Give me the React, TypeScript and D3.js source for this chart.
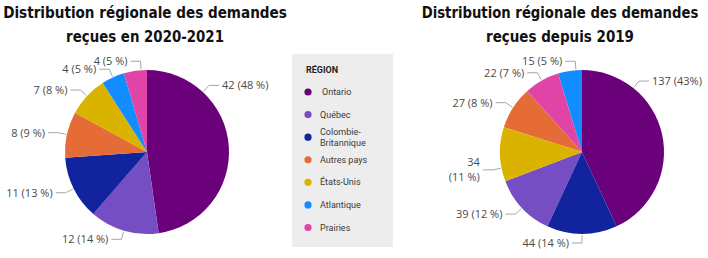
// App.tsx
import React, { useLayoutEffect, useRef, useState } from "react";
import * as d3 from "d3";

// regions in legend order
const regions = ["Ontario", "Québec", "Colombie-Britannique", "Autres pays", "États-Unis", "Atlantique", "Prairies"];
const legendLines = [["Ontario"], ["Québec"], ["Colombie-", "Britannique"], ["Autres pays"], ["États-Unis"], ["Atlantique"], ["Prairies"]];
const colors = ["#6B007B", "#744EC2", "#12239E", "#E66C37", "#D9B300", "#118DFF", "#E044A7"];

// 2020-2021
const counts2021 = [42, 12, 11, 8, 7, 4, 4];
const labels2021 = [["42 (48 %)"], ["12 (14 %)"], ["11 (13 %)"], ["8 (9 %)"], ["7 (8 %)"], ["4 (5 %)"], ["4 (5 %)"]];
// where along the slice the leader line starts (0 = start angle, 1 = end angle)
const labelAt2021 = [0.25, 0.5, 0.5, 0.5, 0.5, 0.5, 0.75];

// depuis 2019
const countsSince = [137, 39, 44, 27, 34, 15, 22];
const labelsSince = [["137 (43%)"], ["39 (12 %)"], ["44 (14 %)"], ["27 (8 %)"], ["34", "(11 %)"], ["15 (5 %)"], ["22 (7 %)"]];
const labelAtSince = [0.25, 0.5, 0.5, 0.5, 0.25, 0.75, 0.5];

const W = 708;
const H = 258;
const R = 82;
const labelFont = "'Open Sans', 'Noto Sans', sans-serif";
const titleFont = "'Liberation Sans Narrow', 'DejaVu Sans Condensed', Roboto, sans-serif";

type PieProps = {
  cx: number;
  cy: number;
  counts: number[];
  labels: string[][];
  labelAt: number[];
};

function Pie({ cx, cy, counts, labels, labelAt }: PieProps) {
  const pie = d3.pie<number>().value((i) => counts[i]);
  const arcs = pie(d3.range(counts.length));
  const arc = d3.arc<d3.PieArcDatum<number>>().innerRadius(0).outerRadius(R);

  return (
    <g transform={`translate(${cx},${cy})`}>
      {arcs.map((a) => (
        <path key={a.data} d={arc(a) || ""} fill={colors[a.data]} />
      ))}
      {arcs.map((a) => {
        const i = a.data;
        const ang = a.startAngle + (a.endAngle - a.startAngle) * labelAt[i];
        const sx = Math.sin(ang), sy = -Math.cos(ang);
        const p0 = [sx * (R + 1), sy * (R + 1)];
        const p1 = [sx * (R + 9), sy * (R + 9)];
        const right = sx > 0.01; // bottom-centre labels go left, like the original
        const p2 = [p1[0] + (right ? 10 : -10), p1[1]];
        const tx = p2[0] + (right ? 3 : -3);
        const lines = labels[i];
        return (
          <g key={"l" + i}>
            <polyline
              points={[p0, p1, p2].map((p) => p.join(",")).join(" ")}
              fill="none"
              stroke="#A6A6A6"
              strokeWidth={1}
            />
            <text
              x={tx}
              y={p1[1]}
              textAnchor={right ? "start" : "end"}
              fontFamily={labelFont}
              fontSize={11}
              fill="#4A4A4A"
            >
              {lines.map((s, k) => (
                <tspan key={k} x={tx} y={p1[1] + (k - (lines.length - 1) / 2) * 15} dy="0.36em">
                  {s}
                </tspan>
              ))}
            </text>
          </g>
        );
      })}
    </g>
  );
}

// condensed bold title: measure the real width, then squeeze it to the original's width
function TitleLine({ cx, y, text, width }: { cx: number; y: number; text: string; width: number }) {
  const ref = useRef<SVGTextElement>(null);
  const [k, setK] = useState(1);
  useLayoutEffect(() => {
    if (!ref.current) return;
    const w = ref.current.getComputedTextLength();
    if (w > 0) setK(width / w);
  }, [text, width]);
  return (
    <g transform={`translate(${cx},${y}) scale(${k},1)`}>
      <text
        ref={ref}
        textAnchor="middle"
        fontFamily={titleFont}
        fontWeight="bold"
        fontSize={16.5}
        fill="#111"
      >
        {text}
      </text>
    </g>
  );
}

function Title({ cx, lines, widths }: { cx: number; lines: string[]; widths: number[] }) {
  return (
    <g>
      {lines.map((s, k) => (
        <TitleLine key={k} cx={cx} y={18 + k * 24} text={s} width={widths[k]} />
      ))}
    </g>
  );
}

function Legend() {
  const y = d3.scalePoint<number>().domain(d3.range(regions.length)).range([92, 227.5]);
  return (
    <g>
      <rect x={292} y={54} width={101} height={193} fill="#EDEDED" />
      <text x={306} y={73} fontFamily="Roboto, sans-serif" fontWeight="bold" fontSize={9} fill="#252423">
        RÉGION
      </text>
      {regions.map((r, i) => {
        const lines = legendLines[i];
        const yy = y(i) as number;
        return (
          <g key={r}>
            <circle cx={308} cy={yy} r={3.6} fill={colors[i]} />
            <text x={320} y={yy} fontFamily="Roboto, sans-serif" fontSize={9} fill="#3A3A3A">
              {lines.map((s, k) => (
                <tspan key={k} x={i === 0 ? 322 : 320} y={yy + (k - (lines.length - 1) / 2) * 11} dy="0.35em">
                  {s}
                </tspan>
              ))}
            </text>
          </g>
        );
      })}
    </g>
  );
}

export default function App() {
  return (
    <svg
      width={W}
      height={H}
      viewBox={`0 0 ${W} ${H}`}
      style={{ position: "fixed", left: 0, top: 0, display: "block", background: "#fff" }}
    >
      <Title cx={145} lines={["Distribution régionale des demandes", "reçues en 2020-2021"]} widths={[284, 158]} />
      <Title cx={560} lines={["Distribution régionale des demandes", "reçues depuis 2019"]} widths={[277, 148]} />
      <Pie cx={147} cy={152} counts={counts2021} labels={labels2021} labelAt={labelAt2021} />
      <Legend />
      <Pie cx={582} cy={152} counts={countsSince} labels={labelsSince} labelAt={labelAtSince} />
    </svg>
  );
}
